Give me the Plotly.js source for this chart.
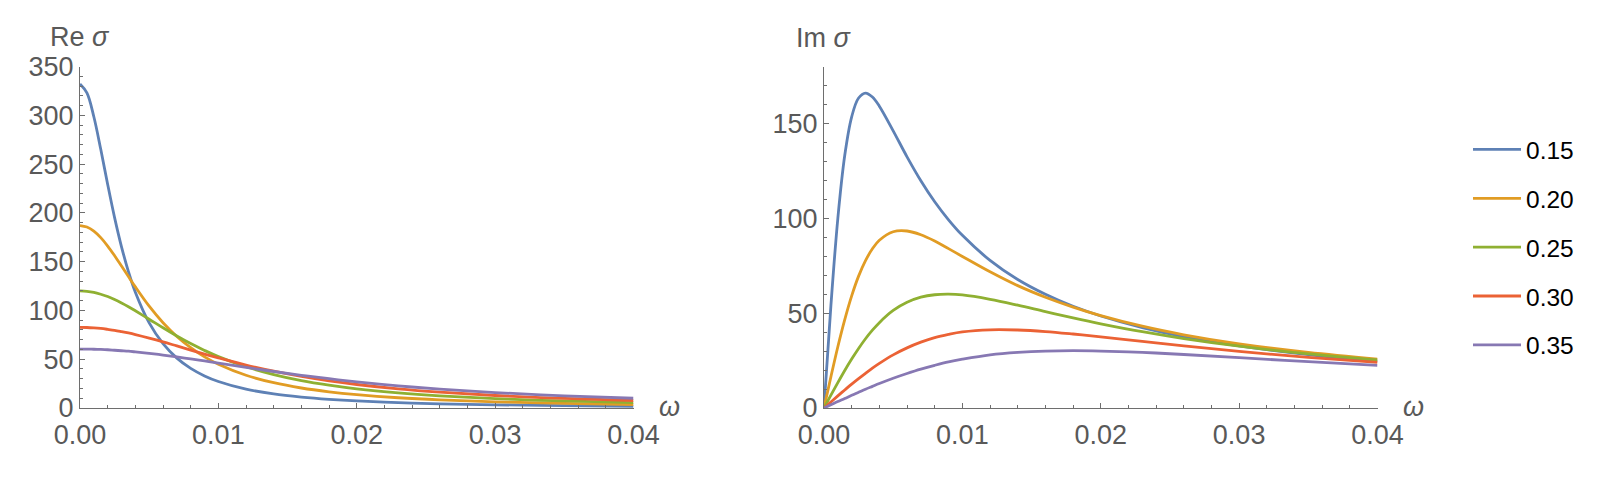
<!DOCTYPE html>
<html>
<head>
<meta charset="utf-8">
<script src="https://cdn.plot.ly/plotly-3.0.1.min.js"></script>
<style>
  html, body { margin: 0; padding: 0; background: #fff; }
  #chart { width: 1610px; height: 490px; }
</style>
</head>
<body>
<div id="chart"></div>
<script>
// frequency grid
var omega = [0, 0.0005, 0.001, 0.0015, 0.002, 0.0025, 0.003, 0.0035, 0.004, 0.005, 0.006, 0.007, 0.008,
  0.009, 0.010, 0.012, 0.014, 0.016, 0.018, 0.020, 0.023, 0.026, 0.030, 0.035, 0.040];

var seriesNames = ["0.15", "0.20", "0.25", "0.30", "0.35"];

// Re sigma
var re015 = [332, 322.9, 298.5, 265.1, 229.1, 195.1, 165.2, 139.8, 118.7, 87.2, 65.9, 51.1, 40.6,
  32.9, 27.2, 19.3, 14.4, 11.2, 8.9, 7.2, 5.5, 4.3, 3.3, 2.4, 1.8];
var re020 = [187, 185.5, 181.3, 174.6, 166.0, 156.1, 145.5, 134.7, 124.1, 104.3, 87.4, 73.3, 61.8,
  52.4, 44.9, 33.6, 25.9, 20.5, 16.6, 13.7, 10.5, 8.3, 6.3, 4.7, 3.6];
var re025 = [120, 119.6, 118.5, 116.6, 114.2, 111.1, 107.6, 103.8, 99.6, 91.0, 82.2, 73.8, 66.0,
  59.0, 52.7, 42.3, 34.3, 28.1, 23.4, 19.6, 15.5, 12.5, 9.6, 7.2, 5.6];
var re030 = [82.6, 82.5, 82.1, 81.5, 80.6, 79.6, 78.3, 76.9, 75.3, 71.7, 67.8, 63.6, 59.4,
  55.3, 51.4, 44.0, 37.7, 32.3, 27.8, 24.1, 19.6, 16.2, 12.8, 9.8, 7.7];
var re035 = [60.4, 60.4, 60.2, 60.0, 59.7, 59.2, 58.7, 58.2, 57.5, 56.0, 54.3, 52.4, 50.3,
  48.2, 46.0, 41.6, 37.4, 33.5, 30.0, 26.8, 22.7, 19.4, 15.8, 12.5, 10.0];

// Im sigma
var im015 = [0, 54.1, 100.0, 133.2, 153.5, 163.4, 166.0, 163.9, 159.1, 146.1, 132.4, 119.8, 108.7,
  99.2, 91.0, 77.8, 67.7, 59.9, 53.6, 48.5, 42.4, 37.6, 32.7, 28.1, 24.6];
var im020 = [0, 16.5, 32.3, 46.6, 59.1, 69.5, 77.7, 83.9, 88.4, 92.9, 93.3, 91.3, 88.0,
  84.0, 79.9, 71.8, 64.5, 58.4, 53.2, 48.7, 43.1, 38.6, 33.8, 29.3, 25.8];
var im025 = [0, 6.8, 13.4, 19.8, 25.8, 31.4, 36.5, 41.0, 45.0, 51.4, 55.7, 58.4, 59.7,
  60.0, 59.6, 57.3, 54.2, 50.8, 47.5, 44.4, 40.2, 36.6, 32.6, 28.5, 25.3];
var im030 = [0, 3.2, 6.4, 9.5, 12.6, 15.5, 18.3, 21.0, 23.5, 28.0, 31.7, 34.7, 37.1,
  38.8, 40.1, 41.2, 41.1, 40.3, 39.0, 37.5, 35.1, 32.8, 29.8, 26.7, 24.0];
var im035 = [0, 1.7, 3.4, 5.0, 6.7, 8.3, 9.9, 11.4, 12.9, 15.7, 18.2, 20.5, 22.5,
  24.3, 25.7, 28.0, 29.3, 30.0, 30.2, 30.0, 29.3, 28.2, 26.5, 24.4, 22.5];

var xTickVals = [0, 0.01, 0.02, 0.03, 0.04];
var xTickText = ["0.00", "0.01", "0.02", "0.03", "0.04"];
var reTickVals = [0, 50, 100, 150, 200, 250, 300, 350];
var imTickVals = [0, 50, 100, 150];

(function () {
  "use strict";

  var W = 1610, H = 490;
  function px(x) { return x / W; }
  function py(y) { return 1 - y / H; }

  var colors = ["#5e81b5", "#e19c24", "#8fb032", "#eb6235", "#8778b3"];
  var axisGray = "#6e6e6e";
  var labelGray = "#595959";
  var font = "'Liberation Sans', Arial, Helvetica, sans-serif";

  var reSeries = [re015, re020, re025, re030, re035];
  var imSeries = [im015, im020, im025, im030, im035];

  var traces = [];
  seriesNames.forEach(function (name, i) {
    traces.push({
      x: omega, y: reSeries[i], xaxis: "x", yaxis: "y", name: name,
      legendgroup: "g" + i, showlegend: true, type: "scatter", mode: "lines",
      line: { color: colors[i], width: 2.8, shape: "spline", smoothing: 1 }, hoverinfo: "skip"
    });
  });
  seriesNames.forEach(function (name, i) {
    traces.push({
      x: omega, y: imSeries[i], xaxis: "x2", yaxis: "y2", name: name,
      legendgroup: "g" + i, showlegend: false, type: "scatter", mode: "lines",
      line: { color: colors[i], width: 2.8, shape: "spline", smoothing: 1 }, hoverinfo: "skip"
    });
  });

  function xAxis(domain, anchor) {
    return {
      domain: domain, anchor: anchor, range: [0, 0.04], fixedrange: true,
      tickvals: xTickVals, ticktext: xTickText, ticks: "inside", ticklen: 5, tickcolor: axisGray,
      minor: { dtick: 0.002, ticks: "inside", ticklen: 3, tickcolor: axisGray },
      showline: true, linecolor: axisGray, linewidth: 1, showgrid: false, zeroline: false,
      ticklabelstandoff: 3,
      tickfont: { size: 27, color: labelGray, family: font }
    };
  }
  function yAxis(domain, anchor, top, ticks) {
    return {
      domain: domain, anchor: anchor, range: [0, top], fixedrange: true,
      tickvals: ticks, ticks: "inside", ticklen: 5, tickcolor: axisGray,
      minor: { dtick: 10, ticks: "inside", ticklen: 3, tickcolor: axisGray },
      showline: true, linecolor: axisGray, linewidth: 1, showgrid: false, zeroline: false,
      tickfont: { size: 27, color: labelGray, family: font }
    };
  }

  var yDom = [py(408), py(66.5)];
  var titleFont = { size: 27, color: labelGray, family: font };

  var layout = {
    width: W, height: H,
    margin: { t: 0, r: 0, b: 0, l: 0 },
    paper_bgcolor: "#fff", plot_bgcolor: "#fff",
    font: { family: font, color: labelGray },
    xaxis: xAxis([px(80), px(633.5)], "y"),
    yaxis: yAxis(yDom, "x", 350, reTickVals),
    xaxis2: xAxis([px(824), px(1377.5)], "y2"),
    yaxis2: yAxis(yDom, "x2", 180, imTickVals),
    showlegend: true,
    legend: {
      x: px(1468), y: py(127), xanchor: "left", yanchor: "top",
      font: { size: 24.5, color: "#000", family: font },
      tracegroupgap: 14, itemwidth: 48, bgcolor: "rgba(0,0,0,0)"
    },
    annotations: [
      { text: "Re <i>σ</i>", xref: "paper", yref: "paper", x: px(80), y: py(37),
        xanchor: "center", yanchor: "middle", showarrow: false, font: titleFont },
      { text: "Im <i>σ</i>", xref: "paper", yref: "paper", x: px(824), y: py(38),
        xanchor: "center", yanchor: "middle", showarrow: false, font: titleFont },
      { text: "<i>ω</i>", xref: "paper", yref: "paper", x: px(669), y: py(407),
        xanchor: "center", yanchor: "middle", showarrow: false, font: titleFont },
      { text: "<i>ω</i>", xref: "paper", yref: "paper", x: px(1413), y: py(407),
        xanchor: "center", yanchor: "middle", showarrow: false, font: titleFont }
    ]
  };

  Plotly.newPlot("chart", traces, layout, { displayModeBar: false, staticPlot: true });
})();
</script>
</body>
</html>
